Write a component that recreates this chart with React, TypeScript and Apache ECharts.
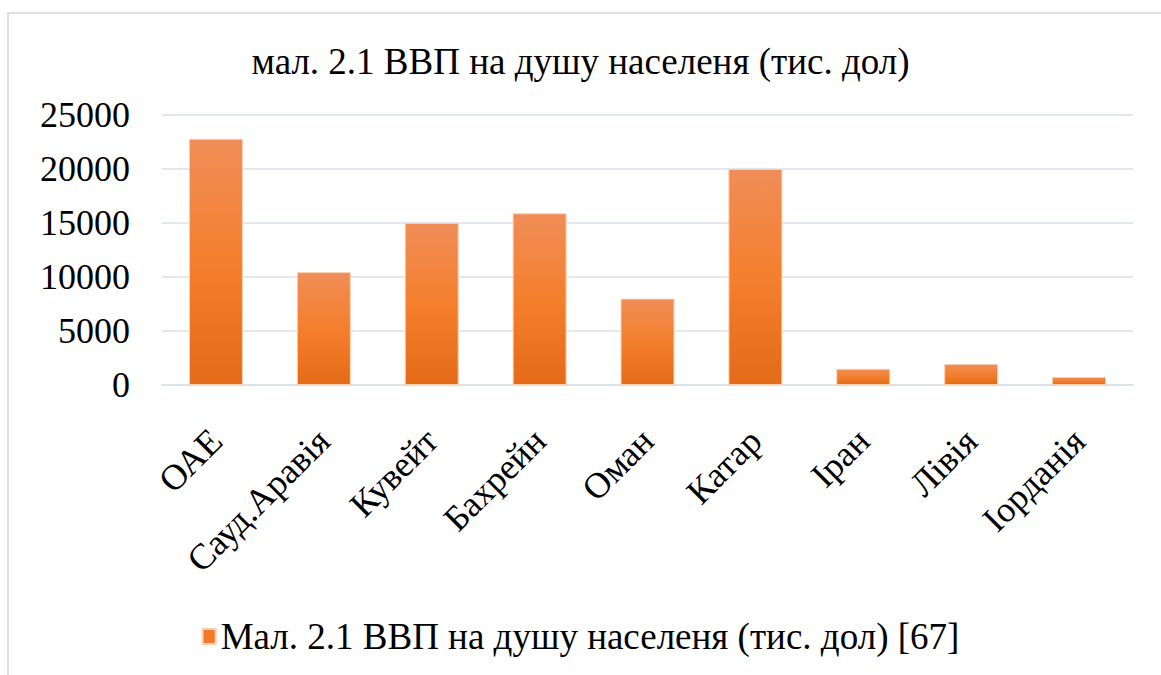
import React, { useEffect, useRef } from "react";
import * as echarts from "echarts";

const titleText = "мал. 2.1 ВВП на душу населеня (тис. дол)";
const seriesName = "Мал. 2.1 ВВП на душу населеня (тис. дол) [67]";
const categories = ["ОАЕ", "Сауд.Аравія", "Кувейт", "Бахрейн", "Оман", "Катар", "Іран", "Лівія", "Іорданія"];
const values = [22800, 10450, 15000, 15900, 8000, 20000, 1500, 1950, 750];
const yMin = 0;
const yMax = 25000;
const yInterval = 5000;

const FONT = "'Liberation Serif', 'DejaVu Serif', serif";

export default function App() {
  const ref = useRef<HTMLDivElement>(null);
  useEffect(() => {
    if (!ref.current) return;
    const chart = echarts.init(ref.current, undefined, { renderer: "svg" });
    const barColor = new echarts.graphic.LinearGradient(0, 0, 0, 1, [
      { offset: 0, color: "#F08D58" },
      { offset: 0.5, color: "#F47F2D" },
      { offset: 1, color: "#E46B18" },
    ]);
    chart.setOption({
      animation: false,
      backgroundColor: "#ffffff",
      graphic: [
        {
          type: "rect",
          shape: { x: 8, y: 13, width: 1170, height: 680 },
          style: { fill: "none", stroke: "#DCE0E6", lineWidth: 2 },
          silent: true,
        },
      ],
      title: {
        text: titleText,
        left: "center",
        top: 38,
        textStyle: { fontFamily: FONT, fontSize: 37, fontWeight: "normal", color: "#000" },
      },
      legend: {
        bottom: 15,
        left: "center",
        itemWidth: 13,
        itemHeight: 15,
        itemGap: 12,
        icon: "rect",
        textStyle: { fontFamily: FONT, fontSize: 37, color: "#000" },
        data: [{ name: seriesName, itemStyle: { color: "#F07A2A" } }],
      },
      grid: { left: 162, right: 28, top: 115, bottom: 290, containLabel: false },
      xAxis: {
        type: "category",
        data: categories,
        axisTick: { show: false },
        axisLine: { lineStyle: { color: "#DCE1E8", width: 2 } },
        axisLabel: {
          rotate: 45,
          interval: 0,
          margin: 50,
          fontFamily: FONT,
          fontSize: 36,
          color: "#000",
        },
      },
      yAxis: {
        type: "value",
        min: yMin,
        max: yMax,
        interval: yInterval,
        axisLine: { show: false },
        axisTick: { show: false },
        splitLine: { lineStyle: { color: "#E3E7EE", width: 2 } },
        axisLabel: {
          margin: 32,
          fontFamily: FONT,
          fontSize: 36,
          color: "#000",
          formatter: (v: number) => String(v),
        },
      },
      series: [
        {
          name: seriesName,
          type: "bar",
          data: values,
          barWidth: "50%",
          itemStyle: { color: barColor, borderColor: "#F9CFB0", borderWidth: 1 },
        },
      ],
    });
    return () => chart.dispose();
  }, []);
  return (
    <div
      ref={ref}
      style={{ position: "absolute", left: 0, top: 0, width: 1161, height: 675 }}
    />
  );
}
